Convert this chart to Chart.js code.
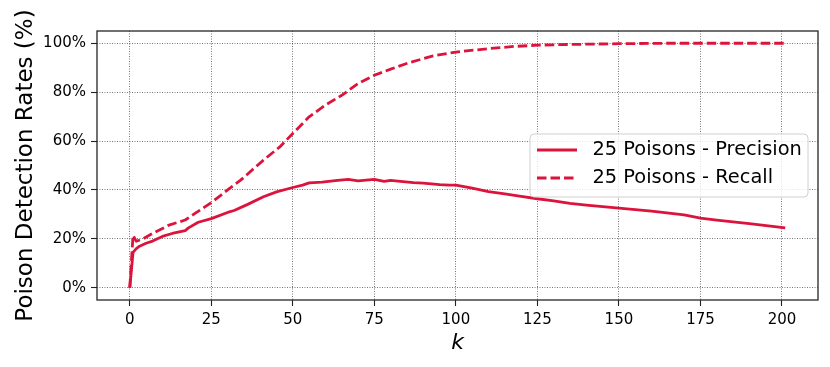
<!DOCTYPE html>
<html><head><meta charset="utf-8">
<script src="https://cdn.jsdelivr.net/npm/chart.js@4.4.1/dist/chart.umd.min.js"></script>
<style>html,body{margin:0;padding:0;background:#fff}#wrap{width:830px;height:367px}</style>
</head><body><div id="wrap"><canvas id="c" width="830" height="367"></canvas></div>
<script>
const precisionK = [0,1,2,3,5,7,10,13,17,18,21,25,30,32,36,41,45,50,53,55,59,63,67,70,75,78,80,83,87,90,95,98,100,105,110,115,120,125,130,135,140,150,160,170,175,180,190,201];
const precisionVals = [0,14.5,16,17,18.2,19.1,21,22.2,23.4,24.5,26.8,28.3,30.8,31.6,34,37.2,39.2,41,42,42.9,43.2,43.8,44.3,43.7,44.3,43.5,43.9,43.5,43,42.8,42.2,42,42,40.7,39.3,38.4,37.4,36.4,35.5,34.5,33.8,32.6,31.3,29.8,28.5,27.7,26.2,24.5];
const recallK = [0,1,2,4,7,12,17,20,25,28,30,34,41,46,50,55,60,65,70,75,80,86,93,100,110,118,125,135,150,165,201];
const recallVals = [0,21.5,19,20,22.2,25.6,27.7,30.4,34.8,37.9,40,44,52.2,57.6,63.1,69.9,74.7,78.7,83.5,86.9,89.4,92.2,94.8,96.4,97.8,98.7,99.2,99.5,99.8,100,100];
const xTicks = [0,25,50,75,100,125,150,175,200];
const yTicks = [0,20,40,60,80,100];
const seriesLabels = ['25 Poisons - Precision','25 Poisons - Recall'];
const xTitle = 'k';
const yTitle = 'Poison Detection Rates (%)';

const RED = '#DC143C';
const FONT = '"DejaVu Sans", sans-serif';

const framePlugin = {
  id: 'frame',
  afterDatasetsDraw(chart) {
    const {ctx, chartArea: a} = chart;
    ctx.save();
    ctx.strokeStyle = '#262626';
    ctx.lineWidth = 1.3;
    ctx.strokeRect(a.left, a.top, a.right - a.left, a.bottom - a.top);
    ctx.restore();
  }
};

const yTitlePlugin = {
  id: 'yTitle',
  afterDraw(chart, args, o) {
    const ctx = chart.ctx;
    const a = chart.chartArea;
    ctx.save();
    ctx.translate(o.x, (a.top + a.bottom) / 2);
    ctx.rotate(-Math.PI / 2);
    ctx.fillStyle = '#000';
    ctx.font = o.font;
    ctx.textAlign = 'center';
    ctx.textBaseline = 'alphabetic';
    ctx.fillText(o.text, 0, 0);
    ctx.restore();
  }
};

const legendPlugin = {
  id: 'boxLegend',
  afterDraw(chart, args, o) {
    const ctx = chart.ctx;
    const x0 = o.x, y0 = o.y, w = o.w, h = o.h, r = 4;
    ctx.save();
    ctx.beginPath();
    ctx.moveTo(x0 + r, y0);
    ctx.lineTo(x0 + w - r, y0); ctx.quadraticCurveTo(x0 + w, y0, x0 + w, y0 + r);
    ctx.lineTo(x0 + w, y0 + h - r); ctx.quadraticCurveTo(x0 + w, y0 + h, x0 + w - r, y0 + h);
    ctx.lineTo(x0 + r, y0 + h); ctx.quadraticCurveTo(x0, y0 + h, x0, y0 + h - r);
    ctx.lineTo(x0, y0 + r); ctx.quadraticCurveTo(x0, y0, x0 + r, y0);
    ctx.closePath();
    ctx.fillStyle = 'rgba(255,255,255,0.8)';
    ctx.fill();
    ctx.strokeStyle = '#d0d0d0';
    ctx.lineWidth = 1;
    ctx.stroke();
    chart.data.datasets.forEach((ds, i) => {
      const y = y0 + o.firstRow + i * o.rowGap;
      ctx.strokeStyle = ds.borderColor;
      ctx.lineWidth = ds.borderWidth;
      ctx.setLineDash(ds.borderDash || []);
      ctx.beginPath();
      ctx.moveTo(x0 + o.lineX0, y);
      ctx.lineTo(x0 + o.lineX1, y);
      ctx.stroke();
      ctx.setLineDash([]);
      ctx.fillStyle = '#000';
      ctx.font = o.font;
      ctx.textBaseline = 'middle';
      ctx.textAlign = 'left';
      ctx.fillText(ds.label, x0 + o.textX, y);
    });
    ctx.restore();
  }
};

const gridOpts = {
  color: 'rgba(0,0,0,0.6)',
  lineWidth: 0.9,
  drawTicks: true,
  tickLength: 6,
  tickColor: '#222',
  tickWidth: 1.1,
  tickBorderDash: []
};
const borderOpts = {display: false, dash: [1, 1.5]};

new Chart(document.getElementById('c'), {
  type: 'line',
  data: {
    datasets: [
      {
        label: seriesLabels[0],
        data: precisionK.map((k, i) => ({x: k, y: precisionVals[i]})),
        borderColor: RED, borderWidth: 2.8, pointRadius: 0, fill: false, tension: 0,
        borderJoinStyle: 'round', borderCapStyle: 'butt'
      },
      {
        label: seriesLabels[1],
        data: recallK.map((k, i) => ({x: k, y: recallVals[i]})),
        borderColor: RED, borderWidth: 2.8, pointRadius: 0, fill: false, tension: 0,
        borderDash: [9.5, 4], borderJoinStyle: 'round', borderCapStyle: 'butt'
      }
    ]
  },
  options: {
    responsive: false,
    animation: false,
    devicePixelRatio: 1,
    layout: {padding: {left: 0, top: 31, right: 12, bottom: 0}},
    plugins: {
      legend: {display: false},
      tooltip: {enabled: false},
      boxLegend: {x: 530, y: 134, w: 278, h: 63, firstRow: 16, rowGap: 28, lineX0: 7, lineX1: 47, textX: 62.5, font: '19.4px ' + FONT},
      yTitle: {text: yTitle, x: 32, font: '23px ' + FONT}
    },
    scales: {
      x: {
        type: 'linear',
        min: -10.05, max: 211.05,
        afterBuildTicks: s => { s.ticks = xTicks.map(v => ({value: v})); },
        afterFit: s => { s.height = 67; },
        grid: gridOpts,
        border: borderOpts,
        ticks: {color: '#000', font: {family: FONT, size: 15}, padding: 5, maxRotation: 0, autoSkip: false},
        title: {display: true, text: xTitle, color: '#000', font: {family: FONT, size: 22, style: 'italic'}, padding: {top: 0, bottom: 11}}
      },
      y: {
        type: 'linear',
        min: -5, max: 105,
        afterBuildTicks: s => { s.ticks = yTicks.map(v => ({value: v})); },
        afterFit: s => { s.width = 97; },
        grid: gridOpts,
        border: borderOpts,
        ticks: {color: '#000', font: {family: FONT, size: 15}, padding: 5, callback: v => v + '%'},
        title: {display: false}
      }
    }
  },
  plugins: [framePlugin, legendPlugin, yTitlePlugin]
});
</script>
</body></html>
